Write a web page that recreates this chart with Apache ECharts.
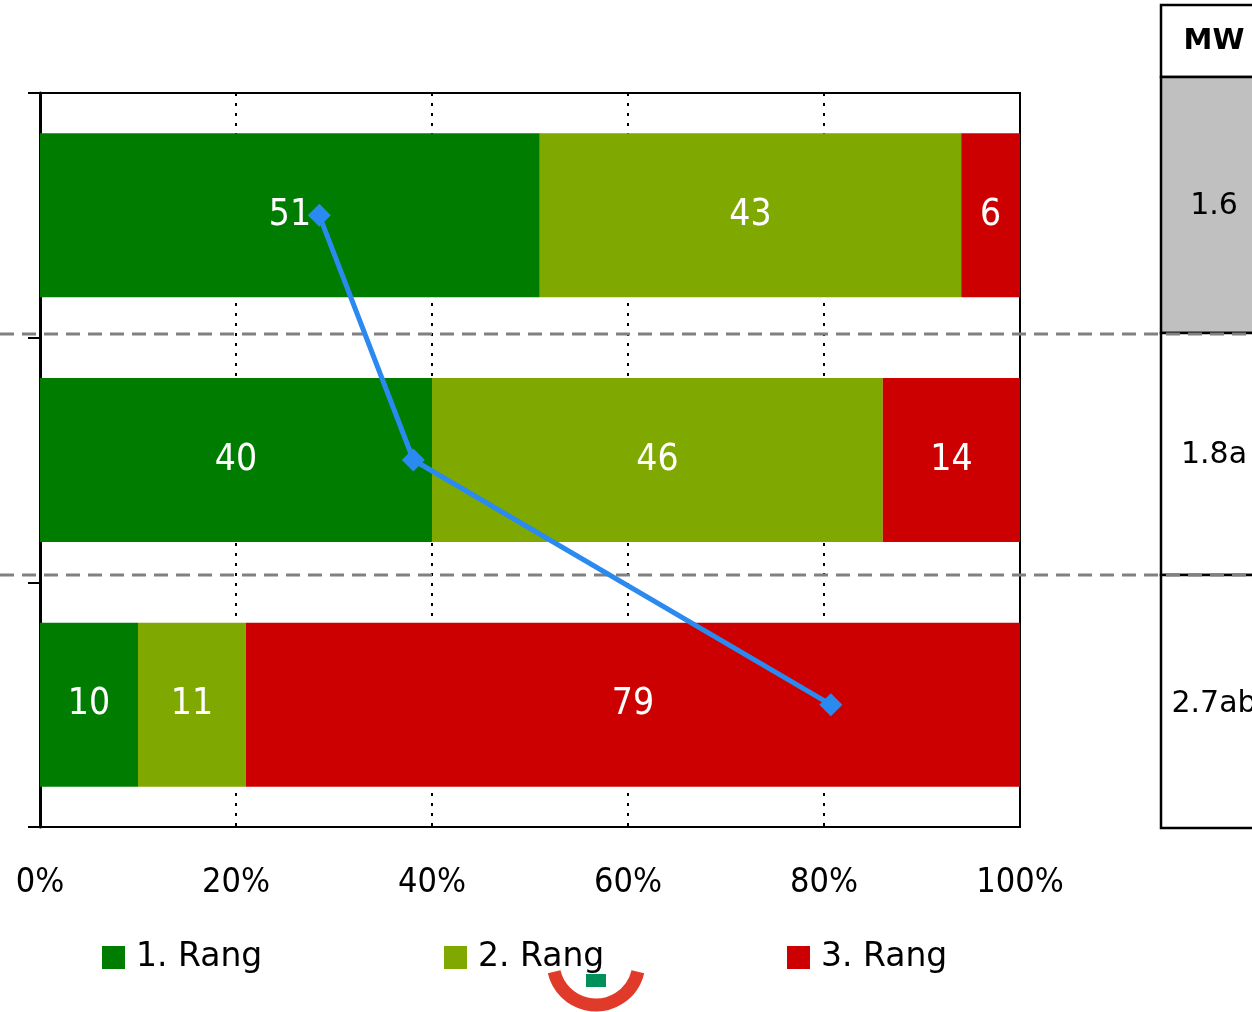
<!DOCTYPE html>
<html>
<head>
<meta charset="utf-8">
<script src="https://cdn.jsdelivr.net/npm/echarts@6/dist/echarts.min.js"></script>
<style>
html,body{margin:0;padding:0;background:#fff;}
#chart{width:1252px;height:1012px;}
</style>
</head>
<body>
<div id="chart"></div>
<script>
const categories = ['Gruppe 1', 'Gruppe 2', 'Gruppe 3'];
const rang1 = [51, 40, 10];
const rang2 = [43, 46, 11];
const rang3 = [6, 14, 79];
const meanLine = [28.5, 38.1, 80.7];
const mwLabels = ['1.6', '1.8a', '2.7ab'];
const tickValues = [0, 20, 40, 60, 80, 100];

const colors = ['#007C00', '#7FA800', '#CC0000'];
const lblFont = 'DejaVu Sans Condensed';

function barSeries(name, data, color) {
  return {
    name: name, type: 'bar', stack: 'total', data: data,
    barCategoryGap: '33%',
    itemStyle: { color: color },
    label: { show: true, position: 'inside', color: '#fff', fontFamily: lblFont, fontSize: 37 }
  };
}

const chart = echarts.init(document.getElementById('chart'), null, { renderer: 'canvas' });

const tableGraphics = [];
const tx = 1161, tw = 110;
const rows = [[5, 77, '#fff'], [77, 333, '#C0C0C0'], [333, 575, '#fff'], [575, 828, '#fff']];
rows.forEach((r, i) => {
  tableGraphics.push({ type: 'rect', shape: { x: tx, y: r[0], width: tw, height: r[1] - r[0] },
    style: { fill: r[2], stroke: '#000', lineWidth: 2.5 }, z: 1 });
});
tableGraphics.push({ type: 'text', x: 1214, y: 41, style: { text: 'MW', font: 'bold 29px "DejaVu Sans"', fill: '#000', align: 'center', verticalAlign: 'middle' }, z: 2 });
const rowCenters = [206, 455, 704];
mwLabels.forEach((t, i) => {
  tableGraphics.push({ type: 'text', x: 1214, y: rowCenters[i], style: { text: t, font: '30px "DejaVu Sans"', fill: '#000', align: 'center', verticalAlign: 'middle' }, z: 2 });
});

const option = {
  animation: false,
  backgroundColor: '#fff',
  grid: { left: 40, right: 232, top: 93, bottom: 185, show: true, borderColor: '#000', borderWidth: 2, backgroundColor: 'transparent' },
  legend: [0, 1, 2].map(i => ({
    data: ['1. Rang', '2. Rang', '3. Rang'].slice(i, i + 1),
    left: [97, 439, 782][i], top: 936, itemWidth: 23, itemHeight: 23, icon: 'rect',
    textStyle: { fontFamily: 'DejaVu Sans', fontSize: 33, color: '#000', padding: [0, 0, 0, 6] }
  })),
  xAxis: {
    type: 'value', min: 0, max: 100, interval: 20,
    axisLine: { show: true, lineStyle: { color: '#000', width: 2 } },
    axisTick: { show: false },
    axisLabel: { formatter: '{value}%', fontFamily: lblFont, fontSize: 34, color: '#000', margin: 39 },
    splitLine: { show: true, lineStyle: { color: '#000', width: 2, type: [3, 7] } }
  },
  yAxis: {
    type: 'category', data: categories, inverse: true,
    axisLine: { show: true, lineStyle: { color: '#000', width: 3 } },
    axisTick: { show: true, length: 12, lineStyle: { color: '#000', width: 2 } },
    axisLabel: { show: false },
    splitLine: { show: false }
  },
  series: [
    barSeries('1. Rang', rang1, colors[0]),
    barSeries('2. Rang', rang2, colors[1]),
    barSeries('3. Rang', rang3, colors[2]),
    {
      name: 'MW', type: 'line', data: meanLine.map((v, i) => [v, i]),
      symbol: 'diamond', symbolSize: 23, z: 5,
      itemStyle: { color: '#2A8AF0' },
      lineStyle: { color: '#2A8AF0', width: 5 },
      label: { show: false }
    }
  ],
  graphic: [
    { type: 'line', shape: { x1: 0, y1: 334, x2: 1252, y2: 334 }, style: { stroke: '#808080', lineWidth: 3, lineDash: [14, 8] }, z: 3 },
    { type: 'line', shape: { x1: 0, y1: 575, x2: 1252, y2: 575 }, style: { stroke: '#808080', lineWidth: 3, lineDash: [14, 8] }, z: 3 },
    ...tableGraphics,
    { type: 'arc', shape: { cx: 596, cy: 962, r: 43, startAngle: 0.23, endAngle: Math.PI - 0.23, clockwise: true },
      style: { stroke: '#E03A2A', lineWidth: 13, fill: null }, z: 1 },
    { type: 'rect', shape: { x: 586, y: 974, width: 20, height: 13 }, style: { fill: '#00905A' }, z: 2 }
  ]
};
chart.setOption(option);
</script>
</body>
</html>
